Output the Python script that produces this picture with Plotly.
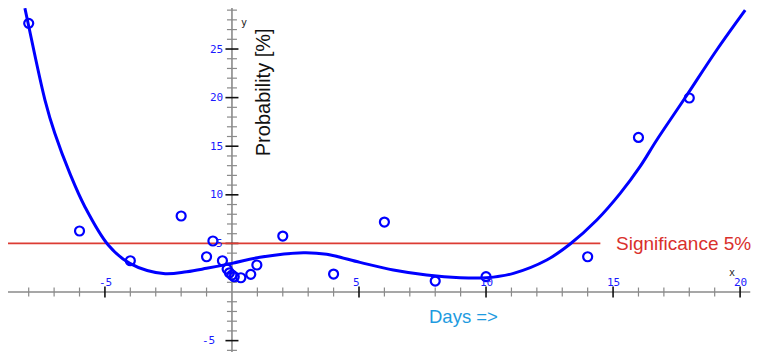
import plotly.graph_objects as go

# ---------------- data ----------------
obs_x = [-8, -6, -4, -2, -1, -0.75, -0.375, -0.19, -0.1, 0, 0.09, 0.35, 0.74, 0.98,
         2, 4, 6, 8, 10, 14, 16, 18]
obs_y = [27.64, 6.28, 3.22, 7.82, 3.63, 5.25, 3.22, 2.36, 1.98, 1.75, 1.57, 1.47, 1.82, 2.78,
         5.76, 1.85, 7.2, 1.13, 1.58, 3.63, 15.9, 19.96]

fit_x = [-8.15, -8.02, -7.36, -6.97, -6.38, -5.79, -4.87, -4.02, -2.7, -1.78, -1.0, 0,
         1.1, 2.81, 3.73, 5.04, 6.35, 7.66, 8.98, 10.03, 11.08, 12.39, 13.31, 14.36,
         15.28, 16.06, 16.72, 17.83, 19.08, 20.2]
fit_y = [29.2, 27.6, 19.75, 16.3, 12.2, 8.78, 4.84, 2.95, 1.9, 2.09, 2.44, 2.95,
         3.57, 4.04, 3.88, 3.05, 2.26, 1.75, 1.47, 1.47, 1.92, 3.29, 4.94, 7.41,
         10.15, 12.9, 15.64, 19.96, 24.9, 29.0]

significance_level = 5
significance_x = [-8.9, 14.5]

x_major_ticks = [-5, 5, 10, 15, 20]
y_major_ticks = [-5, 5, 10, 15, 20, 25]
x_minor_ticks = [v for v in range(-8, 21) if v % 5 != 0]
y_minor_ticks = [v for v in range(-6, 30) if v % 5 != 0]
x_tick_labels = ["-5", "5", "10", "15", "20"]
y_tick_labels = ["-5", "5", "10", "15", "20", "25"]

x_axis_extent = [-8.9, 20.4]
y_axis_extent = [-6.2, 29.3]

# ---------------- layout constants ----------------
# the page body has an 8px margin, so the figure is drawn 8px in from the top-left
W, H = 757, 344
XR = [-8.815, 20.98]
YR = [-6.17, 29.22]
px_x = W / (XR[1] - XR[0])   # pixels per x unit
px_y = H / (YR[1] - YR[0])   # pixels per y unit

BLUE = "#0000ff"
fig = go.Figure()

# axis lines
fig.add_trace(go.Scatter(x=x_axis_extent, y=[0, 0], mode="lines",
                         line=dict(color="#8a8a8a", width=1.6), hoverinfo="skip", showlegend=False))
fig.add_trace(go.Scatter(x=[0, 0], y=y_axis_extent, mode="lines",
                         line=dict(color="#8a8a8a", width=1.6), hoverinfo="skip", showlegend=False))


def tick_segments(vals, along_x, half_px):
    xs, ys = [], []
    for v in vals:
        if along_x:
            d = half_px / px_y
            xs += [v, v, None]
            ys += [-d, d, None]
        else:
            d = half_px / px_x
            xs += [-d, d, None]
            ys += [v, v, None]
    return xs, ys


for vals, along_x, half, col, wd in [
    (x_minor_ticks, True, 4.5, "#8a8a8a", 1.2),
    (y_minor_ticks, False, 5, "#8a8a8a", 1.2),
    (x_major_ticks, True, 5.5, "#111111", 1.6),
    (y_major_ticks, False, 6.5, "#111111", 1.6),
]:
    tx, ty = tick_segments(vals, along_x, half)
    fig.add_trace(go.Scatter(x=tx, y=ty, mode="lines", line=dict(color=col, width=wd),
                             hoverinfo="skip", showlegend=False))

# significance line
fig.add_trace(go.Scatter(x=significance_x, y=[significance_level] * 2, mode="lines",
                         line=dict(color="#dc3b33", width=1.6), hoverinfo="skip", showlegend=False))

# fitted curve
fig.add_trace(go.Scatter(x=fit_x, y=fit_y, mode="lines", line_shape="spline",
                         line=dict(color=BLUE, width=3), hoverinfo="skip", showlegend=False))

# observations
fig.add_trace(go.Scatter(x=obs_x, y=obs_y, mode="markers",
                         marker=dict(symbol="circle-open", size=9, color=BLUE,
                                     line=dict(color=BLUE, width=2.2)),
                         showlegend=False))

annotations = []
tick_font = dict(family="DejaVu Sans Mono", size=11, color="#1a1aff")
for v, t in zip(x_major_ticks, x_tick_labels):
    annotations.append(dict(x=v, y=0, text=t, showarrow=False, xanchor="left", yanchor="middle",
                            xshift=-8, yshift=10, font=tick_font))
for v, t in zip(y_major_ticks, y_tick_labels):
    annotations.append(dict(x=0, y=v, text=t, showarrow=False, xanchor="right", yanchor="middle",
                            xshift=-7 if v > 0 else -15, font=tick_font))

annotations += [
    dict(x=19.7, y=0, text="x", showarrow=False, yshift=20, font=dict(family="DejaVu Sans Mono", size=10, color="#222")),
    dict(x=0, y=27.7, text="y", showarrow=False, xshift=12, font=dict(family="DejaVu Sans Mono", size=10, color="#222")),
    dict(x=1.2, y=20.6, text="Probability [%]", textangle=-90, showarrow=False,
         font=dict(family="Liberation Sans", size=20, color="#111")),
    dict(x=9.11, y=-2.5, text="Days =>", showarrow=False,
         font=dict(family="Liberation Sans", size=18.5, color="#1e9be0")),
    dict(x=14.7, y=significance_level, text="Significance 5%", showarrow=False, xanchor="left",
         xshift=9, font=dict(family="Liberation Sans", size=19, color="#d9302c")),
]

fig.update_layout(
    width=W, height=H, autosize=False,
    margin=dict(l=0, r=0, t=0, b=0),
    paper_bgcolor="white", plot_bgcolor="white",
    xaxis=dict(range=XR, visible=False, fixedrange=True),
    yaxis=dict(range=YR, visible=False, fixedrange=True),
    annotations=annotations,
)

fig.write_html("out.html")
